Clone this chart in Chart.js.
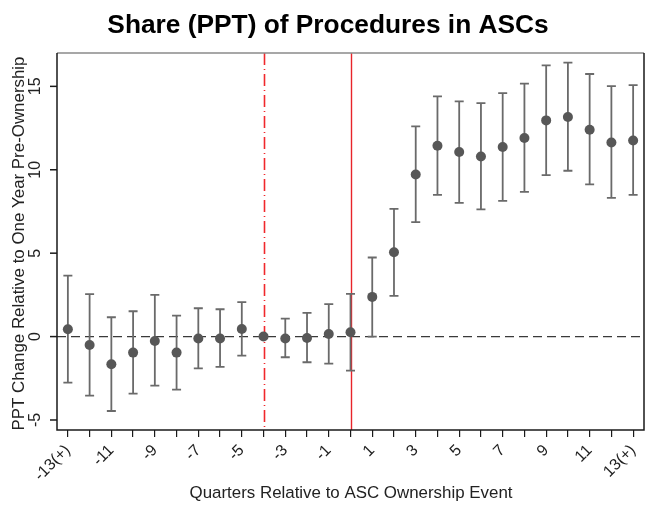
<!DOCTYPE html>
<html>
<head>
<meta charset="utf-8">
<script src="https://cdn.jsdelivr.net/npm/chart.js@4.4.1/dist/chart.umd.min.js"></script>
<style>
  html, body { margin: 0; padding: 0; background: #fff; }
  #wrap { width: 645px; height: 508px; }
</style>
</head>
<body>
<div id="wrap"><canvas id="eventChart" width="645" height="508"></canvas></div>
<script>
const FONT = '"Liberation Sans", Arial, Helvetica, sans-serif';

// event-study estimates by quarter (quarter -4 is the omitted reference)
const quarters = [-13, -12, -11, -10, -9, -8, -7, -6, -5, -4, -3, -2, -1, 0,
  1, 2, 3, 4, 5, 6, 7, 8, 9, 10, 11, 12, 13];
const estimates = [0.44, -0.50, -1.66, -0.96, -0.26, -0.96, -0.12, -0.12, 0.46, 0, -0.12, -0.08, 0.16, 0.26,
  2.38, 5.06, 9.72, 11.44, 11.06, 10.80, 11.36, 11.90, 12.96, 13.16, 12.40, 11.64, 11.76];
const upperCI = [3.66, 2.54, 1.16, 1.52, 2.50, 1.26, 1.70, 1.64, 2.06, null, 1.08, 1.42, 1.94, 2.56,
  4.74, 7.66, 12.60, 14.40, 14.10, 14.00, 14.60, 15.16, 16.26, 16.42, 15.74, 15.02, 15.08];
const lowerCI = [-2.76, -3.54, -4.46, -3.42, -2.94, -3.18, -1.90, -1.82, -1.14, null, -1.24, -1.54, -1.62, -2.04,
  0.00, 2.44, 6.86, 8.50, 8.02, 7.62, 8.14, 8.68, 9.68, 9.94, 9.12, 8.32, 8.50];

const xTickLabels = ['-13(+)', '', '-11', '', '-9', '', '-7', '', '-5', '', '-3', '', '-1', '',
  '1', '', '3', '', '5', '', '7', '', '9', '', '11', '', '13(+)'];
const yTickValues = [-5, 0, 5, 10, 15];

const preEventLine = -4;   // one year pre-ownership
const eventLine = 0;       // ownership event

const points = quarters.map((q, i) => ({ x: q, y: estimates[i] }));

const eventPlot = {
  id: 'eventPlot',
  beforeDatasetsDraw(chart) {
    const { ctx, chartArea: a, scales: { x, y } } = chart;
    ctx.save();
    ctx.beginPath();
    ctx.rect(a.left, a.top, a.right - a.left, a.bottom - a.top);
    ctx.clip();

    // zero reference line
    const y0 = y.getPixelForValue(0);
    ctx.strokeStyle = '#3a3a3a';
    ctx.lineWidth = 1.3;
    ctx.setLineDash([9, 5]);
    ctx.beginPath();
    ctx.moveTo(a.left, y0);
    ctx.lineTo(a.right, y0);
    ctx.stroke();

    // pre-ownership reference (dash-dot)
    const xp = Math.round(x.getPixelForValue(preEventLine)) + 0.5;
    ctx.strokeStyle = '#f0282c';
    ctx.lineWidth = 1.6;
    ctx.setLineDash([12, 4, 1, 4]);
    ctx.beginPath();
    ctx.moveTo(xp, a.top);
    ctx.lineTo(xp, a.bottom);
    ctx.stroke();

    // ownership event
    const xe = Math.round(x.getPixelForValue(eventLine)) + 0.5;
    ctx.setLineDash([]);
    ctx.strokeStyle = '#e8242a';
    ctx.lineWidth = 1.4;
    ctx.beginPath();
    ctx.moveTo(xe, a.top);
    ctx.lineTo(xe, a.bottom);
    ctx.stroke();

    // confidence intervals
    ctx.strokeStyle = '#6a6a6a';
    ctx.lineWidth = 1.8;
    quarters.forEach((q, i) => {
      if (upperCI[i] == null) return;
      const px = x.getPixelForValue(q);
      const yt = y.getPixelForValue(upperCI[i]);
      const yb = y.getPixelForValue(lowerCI[i]);
      ctx.beginPath();
      ctx.moveTo(px, yt);
      ctx.lineTo(px, yb);
      ctx.moveTo(px - 4.5, yt);
      ctx.lineTo(px + 4.5, yt);
      ctx.moveTo(px - 4.5, yb);
      ctx.lineTo(px + 4.5, yb);
      ctx.stroke();
    });
    ctx.restore();
  },
  afterDraw(chart) {
    const { ctx, chartArea: a, scales: { y } } = chart;
    ctx.save();

    // frame
    ctx.lineWidth = 1.5;
    ctx.strokeStyle = '#8a8a8a';
    ctx.beginPath();
    ctx.moveTo(a.left, a.top);
    ctx.lineTo(a.right, a.top);
    ctx.stroke();
    ctx.strokeStyle = '#1a1a1a';
    ctx.beginPath();
    ctx.moveTo(a.right, a.top);
    ctx.lineTo(a.right, a.bottom);
    ctx.lineTo(a.left, a.bottom);
    ctx.lineTo(a.left, a.top);
    ctx.stroke();

    // y ticks, labels set vertically
    ctx.fillStyle = '#222';
    ctx.font = '16px ' + FONT;
    ctx.textAlign = 'center';
    ctx.textBaseline = 'middle';
    yTickValues.forEach(v => {
      const py = y.getPixelForValue(v);
      ctx.beginPath();
      ctx.moveTo(a.left, py);
      ctx.lineTo(a.left - 7, py);
      ctx.stroke();
      ctx.save();
      ctx.translate(a.left - 21, py);
      ctx.rotate(-Math.PI / 2);
      ctx.fillText(String(v), 0, 0);
      ctx.restore();
    });

    // axis titles
    ctx.font = '16.9px ' + FONT;
    ctx.save();
    ctx.translate(19, (a.top + a.bottom) / 2 + 2);
    ctx.rotate(-Math.PI / 2);
    ctx.fillText('PPT Change Relative to One Year Pre-Ownership', 0, 0);
    ctx.restore();
    ctx.fillText('Quarters Relative to ASC Ownership Event', 351, 493);

    // chart title
    ctx.font = 'bold 26.3px ' + FONT;
    ctx.fillStyle = '#000';
    ctx.fillText('Share (PPT) of Procedures in ASCs', 328, 26);
    ctx.restore();
  }
};

new Chart(document.getElementById('eventChart'), {
  type: 'scatter',
  data: {
    datasets: [{
      data: points,
      pointRadius: 5,
      pointHoverRadius: 5,
      pointBackgroundColor: '#575757',
      pointBorderColor: '#575757',
      pointBorderWidth: 0,
    }],
  },
  options: {
    responsive: false,
    animation: false,
    events: [],
    layout: { autoPadding: false, padding: { top: 53, right: 1, left: 0, bottom: 0 } },
    plugins: { legend: { display: false }, tooltip: { enabled: false }, title: { display: false } },
    scales: {
      x: {
        type: 'linear',
        min: -13.5,
        max: 13.5,
        afterBuildTicks: (s) => { s.ticks = quarters.map(v => ({ value: v })); },
        afterFit: (s) => { s.height = 78; s.paddingLeft = 0; s.paddingRight = 0; },
        border: { display: false },
        grid: { drawOnChartArea: false, drawTicks: true, tickLength: 7, color: '#1a1a1a', lineWidth: 1.2 },
        ticks: {
          autoSkip: false,
          minRotation: 45,
          maxRotation: 45,
          padding: 4,
          color: '#222',
          font: { family: FONT, size: 16 },
          callback: (v) => xTickLabels[quarters.indexOf(v)] ?? '',
        },
      },
      y: {
        min: -5.6,
        max: 17,
        afterFit: (s) => { s.width = 57; },
        border: { display: false },
        grid: { display: false },
        ticks: { display: false },
      },
    },
  },
  plugins: [eventPlot],
});
</script>
</body>
</html>
